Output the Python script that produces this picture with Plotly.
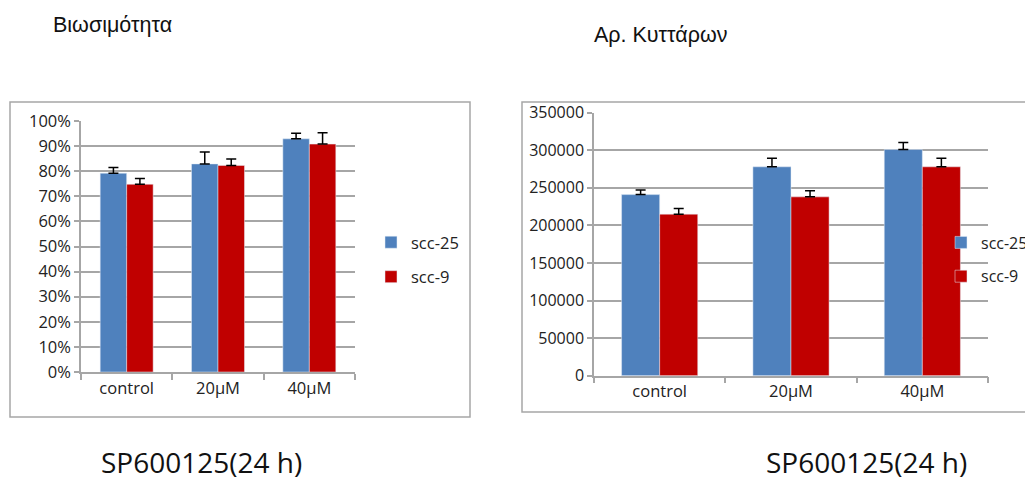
import plotly.graph_objects as go

# data
categories = ["control", "20μM", "40μM"]

viab_scc25 = [0.792, 0.829, 0.929]
viab_scc25_err = [0.023, 0.047, 0.022]
viab_scc9 = [0.748, 0.823, 0.908]
viab_scc9_err = [0.023, 0.026, 0.045]

cells_scc25 = [241000, 278000, 301000]
cells_scc25_err = [6000, 11500, 9500]
cells_scc9 = [215000, 238000, 278000]
cells_scc9_err = [7500, 8000, 11500]

# page has an 8px body margin, so the figure is 8px smaller than the window
OFF = 8
W, H = 1033 - OFF, 482 - OFF
BLUE = "#4F81BD"
RED = "#C00000"
GRID = "#A6A6A6"
FONT = "Open Sans"


def px(x):
    return (x - OFF) / W


def py(y):
    return 1 - (y - OFF) / H


def err(arr):
    return dict(type="data", array=arr, arrayminus=[0] * len(arr), symmetric=False,
                color="black", thickness=1.5, width=5)


fig = go.Figure()

# left panel: viability
fig.add_trace(go.Bar(x=categories, y=viab_scc25, name="scc-25", marker_color=BLUE,
                     error_y=err(viab_scc25_err), xaxis="x", yaxis="y",
                     legend="legend", legendgroup="a"))
fig.add_trace(go.Bar(x=categories, y=viab_scc9, name="scc-9", marker_color=RED,
                     error_y=err(viab_scc9_err), xaxis="x", yaxis="y",
                     legend="legend", legendgroup="b"))

# right panel: cell counts
fig.add_trace(go.Bar(x=categories, y=cells_scc25, name="scc-25", marker_color=BLUE,
                     error_y=err(cells_scc25_err), xaxis="x2", yaxis="y2",
                     legend="legend2", legendgroup="c"))
fig.add_trace(go.Bar(x=categories, y=cells_scc9, name="scc-9", marker_color=RED,
                     error_y=err(cells_scc9_err), xaxis="x2", yaxis="y2",
                     legend="legend2", legendgroup="d"))

xcommon = dict(showline=True, linecolor=GRID, linewidth=1.5, ticks="outside",
               tickson="boundaries", ticklen=6, tickcolor=GRID, tickwidth=1.5,
               showgrid=False, automargin=False,
               tickfont=dict(size=16.5, color="#222"))
ycommon = dict(showline=True, linecolor=GRID, linewidth=1.5, ticks="outside",
               ticklen=5, tickcolor=GRID, tickwidth=1.5, showgrid=True,
               gridcolor=GRID, gridwidth=1.5, zeroline=False, automargin=False)

legcommon = dict(traceorder="grouped", tracegroupgap=10, yanchor="middle",
                 bgcolor="rgba(0,0,0,0)")

fig.update_layout(
    width=W, height=H,
    margin=dict(l=0, r=0, t=0, b=0, autoexpand=False),
    paper_bgcolor="white", plot_bgcolor="white",
    font=dict(family=FONT, color="#222"),
    barmode="group", bargap=0.42, bargroupgap=0,
    xaxis=dict(domain=[px(81), px(355)], anchor="y", **xcommon),
    yaxis=dict(domain=[py(372), py(121)], anchor="x", range=[0, 1], dtick=0.1,
               tickformat=".0%", tickfont=dict(size=16.5, color="#222"), **ycommon),
    xaxis2=dict(domain=[px(594), px(988)], anchor="y2", **xcommon),
    yaxis2=dict(domain=[py(375.7), py(112.7)], anchor="x2", range=[0, 350000],
                dtick=50000, tickformat="d", tickfont=dict(size=16, color="#222"),
                **ycommon),
    legend=dict(x=px(371), xanchor="left", y=py(259.5),
                font=dict(size=16.5, color="#222"), **legcommon),
    legend2=dict(x=1, xanchor="right", y=py(259.5),
                 font=dict(size=16, color="#222"), **legcommon),
    shapes=[
        dict(type="rect", xref="paper", yref="paper", x0=px(10), x1=px(470),
             y0=py(417), y1=py(102), line=dict(color=GRID, width=1.5)),
        dict(type="rect", xref="paper", yref="paper", x0=px(522), x1=1.01,
             y0=py(412), y1=py(102), line=dict(color=GRID, width=1.5)),
    ],
    annotations=[
        dict(text="Βιωσιμότητα", x=px(51), y=py(25), xref="paper", yref="paper",
             xanchor="left", yanchor="middle", showarrow=False,
             font=dict(family="Liberation Sans", size=21.5, color="#111")),
        dict(text="Αρ. Κυττάρων", x=px(592), y=py(35), xref="paper", yref="paper",
             xanchor="left", yanchor="middle", showarrow=False,
             font=dict(family="Liberation Sans", size=21.5, color="#111")),
        dict(text="SP600125(24 h)", x=px(99), y=py(462), xref="paper", yref="paper",
             xanchor="left", yanchor="middle", showarrow=False,
             font=dict(family=FONT, size=28, color="#111")),
        dict(text="SP600125(24 h)", x=px(764), y=py(462), xref="paper", yref="paper",
             xanchor="left", yanchor="middle", showarrow=False,
             font=dict(family=FONT, size=28, color="#111")),
    ],
)

fig.write_html("out.html")
